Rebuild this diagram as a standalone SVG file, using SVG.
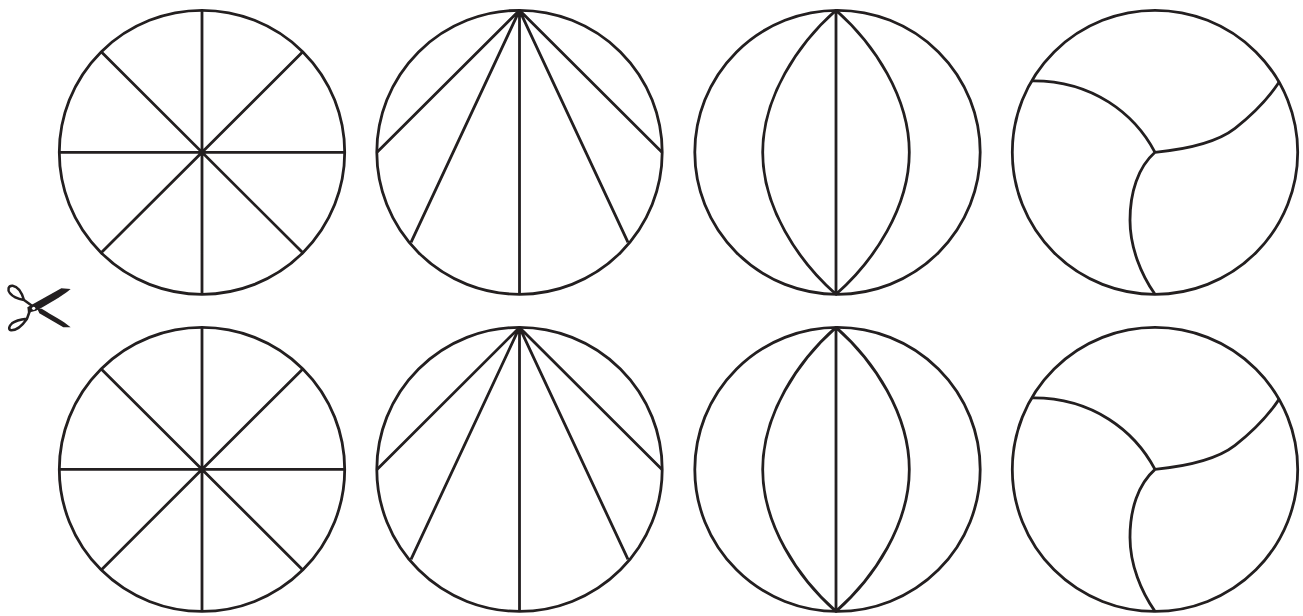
<svg xmlns="http://www.w3.org/2000/svg" width="1303" height="616" viewBox="0 0 1303 616">
<style>
.l{fill:none;stroke:#231f20;stroke-width:2.8;stroke-linecap:butt;stroke-linejoin:round}
.f{fill:#231f20;stroke:none}
.h{fill:none;stroke:#231f20;stroke-width:7.500}
</style>
<defs>
<ellipse id="o" class="l" rx="142.700" ry="142"/>
<g id="a"><use href="#o"/><path class="l" d="M0-142V142M-142.700 0H142.700M-100.800-100.500L100.800 100.500M100.800-100.500L-100.800 100.500"/></g>
<g id="b"><use href="#o"/><path class="l" d="M0-142V142M0-142L-142.500 0M0-142L142.500 0M0-142L-108.500 90M0-142L108.500 90"/></g>
<g id="c"><use href="#o"/><path class="l" d="M-1.500-142C-40-108-74.800-55-74.800 0C-74.800 55-40 108-1.500 142V-142C37-108 71.800-55 71.800 0C71.800 55 37 108-1.500 142"/></g>
<g id="d"><use href="#o"/><path class="l" d="M0 0C-20-38-62-72-123-71.500M0 0C30-3 62-10 80-24C98-38 112-52 124-70M0 0C-17 15-25 40-25 68C-25 95-14 122 0 142"/></g>
</defs>
<g id="row1">
<use id="n1" href="#a" x="202" y="152.300"/>
<use id="n2" href="#b" x="519.500" y="152.300"/>
<use id="n3" href="#c" x="837.500" y="152.300"/>
<use id="n4" href="#d" x="1155" y="152.300"/>
</g>
<g id="row2">
<use id="n5" href="#a" x="202" y="469.400"/>
<use id="n6" href="#b" x="519.500" y="469.400"/>
<use id="n7" href="#c" x="837.500" y="469.400"/>
<use id="n8" href="#d" x="1155" y="469.400"/>
</g>
<g id="scissors" transform="translate(0 270) scale(.33333)">
<path class="f" d="M212 57L184 55L82 112L84 128L108 122C140 105 185 80 212 57Z"/>
<path class="f" d="M212 172L190 172L118 130L112 116L125 116C155 135 190 152 212 172Z"/>
<path class="h" d="M100 110L72 90C66 70 58 50 38 47C24 46 22 60 30 70C40 83 55 87 72 90"/>
<path class="h" d="M90 122C86 130 84 140 80 148C68 165 50 182 33 181C24 179 27 168 36 160C48 150 62 148 80 146"/>
<circle cx="101" cy="115" r="5" fill="#fff"/>
</g>
</svg>
